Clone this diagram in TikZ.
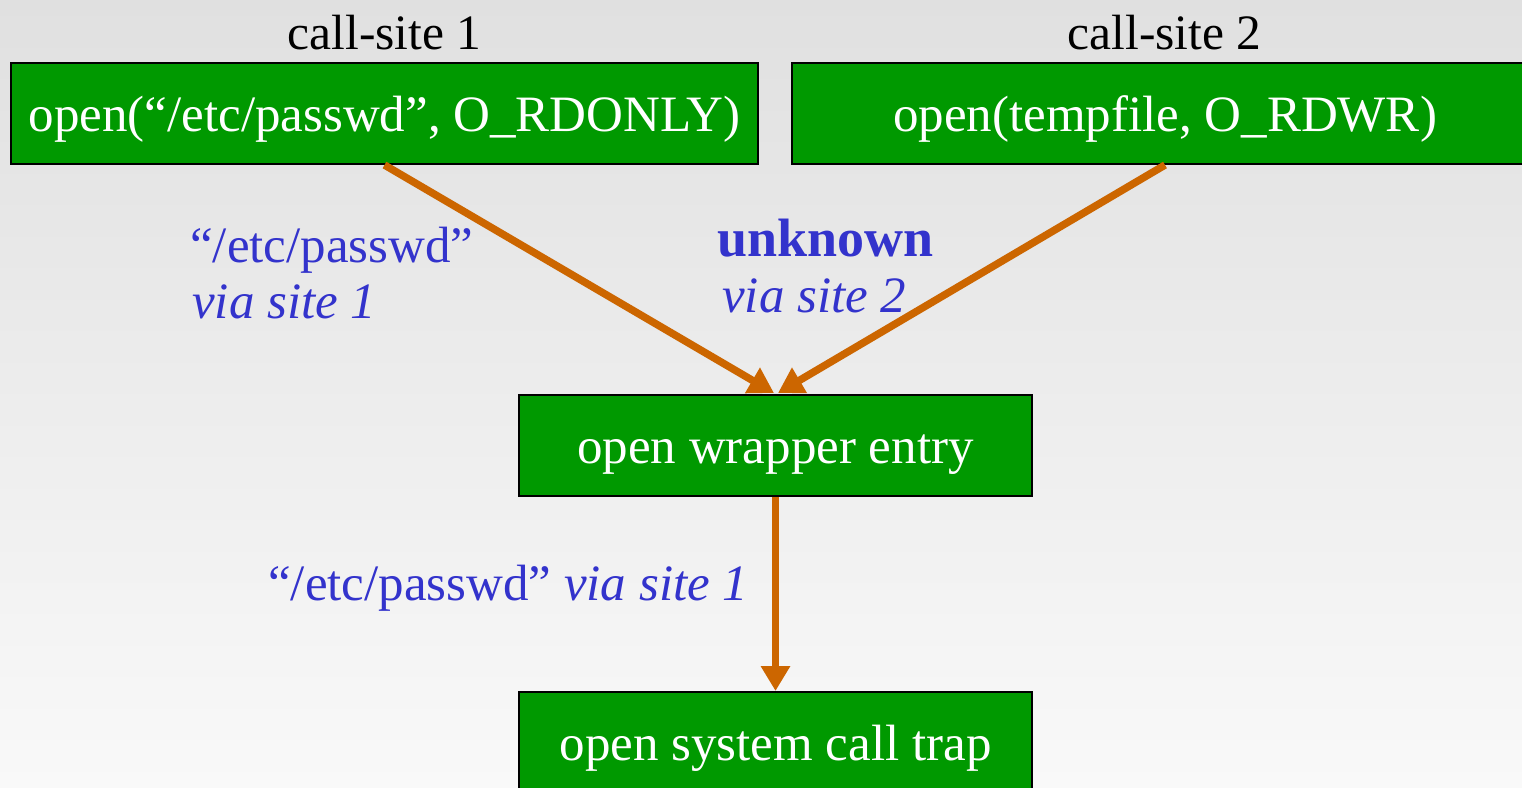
\documentclass[tikz,border=0pt]{standalone}
\usepackage{fontspec}
\setmainfont{Liberation Serif}
\usetikzlibrary{arrows.meta}
\definecolor{boxgreen}{RGB}{0,153,0}
\definecolor{flow}{RGB}{204,102,0}
\definecolor{note}{RGB}{51,51,204}
\definecolor{bgtop}{RGB}{224,224,224}
\definecolor{bgbottom}{RGB}{249,249,249}
\tikzset{
  gbox/.style={draw=black, line width=2pt, fill=boxgreen, text=white,
    minimum height=101pt, inner sep=0pt, text height=38pt, text depth=2pt,
    font=\fontsize{51}{56}\selectfont},
  title/.style={anchor=base, inner sep=0pt, text=black,
    font=\fontsize{49.5}{56}\selectfont},
  lbl/.style={anchor=base west, inner sep=0pt, text=note,
    font=\fontsize{51}{56}\selectfont},
  flowarrow/.style={draw=flow, line width=7.5pt,
    -{Triangle[length=25pt,width=28pt]}}
}
\begin{document}
\begin{tikzpicture}[x=1pt,y=-1pt]
  % backdrop with a soft vertical gradient
  \path[use as bounding box, top color=bgtop, bottom color=bgbottom]
    (0,0) rectangle (1522,787);
  \clip (0,0) rectangle (1522,787);

  % call sites
  \node[title] (t1) at (384.5,49) {call-site 1};
  \node[title] (t2) at (1164.5,49) {call-site 2};
  \node[gbox, minimum width=747pt] (call1) at (384.5,113.5)
    {open(“/etc/passwd”, O\_RDONLY)};
  \node[gbox, minimum width=746pt] (call2) at (1165,113.5)
    {open(tempfile, O\_RDWR)};

  % wrapper and trap
  \node[gbox, minimum width=513pt] (wrap) at (775.5,445.5) {open wrapper entry};
  \node[gbox, minimum width=513pt] (trap) at (775.5,742.5) {open system call trap};

  % data flow
  \draw[flowarrow] (call1.south) -- ([xshift=-1.5pt,yshift=1pt]wrap.north);
  \draw[flowarrow] (call2.south) -- ([xshift=2.5pt,yshift=1pt]wrap.north);
  \draw[flowarrow] (wrap.south) -- (trap.north);

  % annotations
  \node[lbl] (a1) at (190,262) {“/etc/passwd”};
  \node[lbl] (a2) at (192,318) {\itshape via site 1};
  \node[lbl, font=\fontsize{54}{56}\selectfont\bfseries] (b1) at (717,256) {unknown};
  \node[lbl] (b2) at (722,312) {\itshape via site 2};
  \node[lbl] (c1) at (268,600) {“/etc/passwd” \textit{via site 1}};
\end{tikzpicture}
\end{document}
